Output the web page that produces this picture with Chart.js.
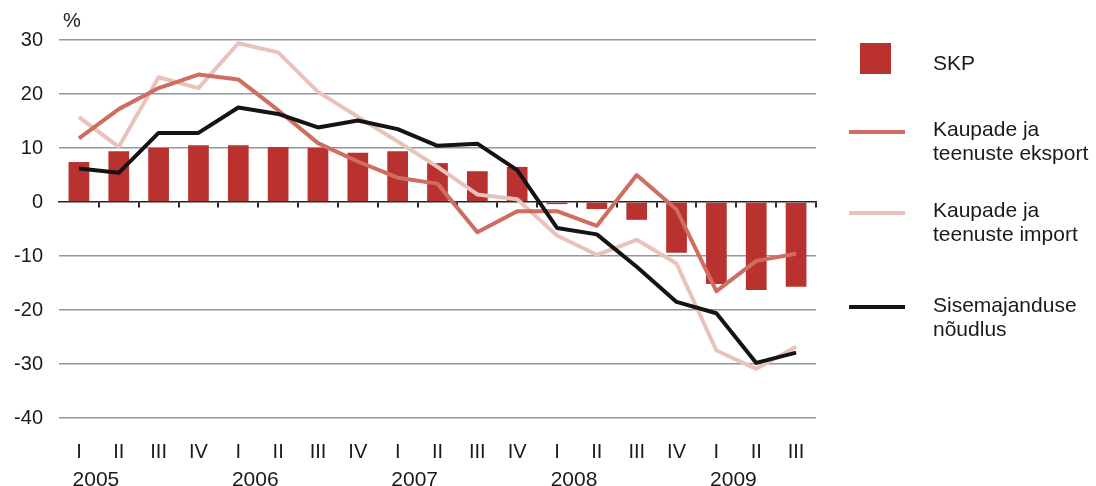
<!DOCTYPE html>
<html>
<head>
<meta charset="utf-8">
<script src="https://cdn.jsdelivr.net/npm/chart.js"></script>
<style>
    html, body { margin: 0; padding: 0; background: #fff; }
    body { font-family: "Liberation Sans", Arial, Helvetica, sans-serif; color: #1a1a1a; }
    #wrap { position: relative; width: 1096px; height: 486px; }
    #chart { position: absolute; left: 0; top: 0; }
    .unit { position: absolute; left: 63px; top: 9px; font-size: 20px; }
    .legend-item { position: absolute; left: 933px; font-size: 21px; line-height: 24px; }
    .swatch { position: absolute; }
</style>
</head>
<body>
<div id="wrap">
    <canvas id="chart" width="1096" height="486"></canvas>
    <div class="unit">%</div>

    <div class="swatch" style="left:860px; top:43px; width:31px; height:31px; background:#b93230;"></div>
    <div class="legend-item" style="top:51px;">SKP</div>

    <div class="swatch" style="left:849px; top:130px; width:56px; height:4px; background:#cf6d60;"></div>
    <div class="legend-item" style="top:117px;">Kaupade ja<br>teenuste eksport</div>

    <div class="swatch" style="left:849px; top:211px; width:56px; height:4px; background:#e9c2ba;"></div>
    <div class="legend-item" style="top:198px;">Kaupade ja<br>teenuste import</div>

    <div class="swatch" style="left:849px; top:305px; width:56px; height:4px; background:#141414;"></div>
    <div class="legend-item" style="top:293px;">Sisemajanduse<br>nõudlus</div>
</div>

<script>
// kvartalid ja aastad
const quarters = ['I', 'II', 'III', 'IV', 'I', 'II', 'III', 'IV', 'I', 'II', 'III', 'IV',
    'I', 'II', 'III', 'IV', 'I', 'II', 'III'];
const years = ['2005', '', '', '', '2006', '', '', '', '2007', '', '', '',
    '2008', '', '', '', '2009', '', ''];

// muutus võrreldes eelmise aasta sama perioodiga, %
const gdp = [7.4, 9.4, 10.0, 10.5, 10.5, 10.2, 10.0, 9.1, 9.4, 7.2, 5.7, 6.5,
    -0.4, -1.3, -3.3, -9.4, -15.2, -16.3, -15.7];
const exports = [11.8, 17.2, 21.1, 23.6, 22.7, 17.0, 10.9, 7.5, 4.5, 3.4, -5.6, -1.7,
    -1.7, -4.4, 5.0, -1.4, -16.5, -10.9, -9.6];
const imports = [15.7, 10.2, 23.1, 21.1, 29.4, 27.7, 20.4, 15.8, 11.2, 6.5, 1.4, 0.5,
    -6.2, -9.8, -7.0, -11.4, -27.5, -30.9, -26.8];
const demand = [6.2, 5.4, 12.8, 12.8, 17.5, 16.3, 13.8, 15.1, 13.5, 10.4, 10.8, 5.9,
    -4.8, -6.0, -12.0, -18.5, -20.6, -29.8, -27.9];

const yTicks = [30, 20, 10, 0, -10, -20, -30, -40];

const FONT = '"Liberation Sans", Arial, Helvetica, sans-serif';
const TEXT = '#1a1a1a';
const lineStyle = { fill: false, tension: 0, pointRadius: 0, borderWidth: 4, borderJoinStyle: 'round' };

new Chart(document.getElementById('chart'), {
    type: 'bar',
    data: {
        labels: quarters,
        datasets: [
            {
                label: 'SKP',
                data: gdp,
                backgroundColor: '#b93230',
                categoryPercentage: 1,
                barPercentage: 0.52,
                order: 4
            },
            { type: 'line', label: 'Kaupade ja teenuste import', data: imports, borderColor: '#e9c2ba', order: 3, ...lineStyle },
            { type: 'line', label: 'Kaupade ja teenuste eksport', data: exports, borderColor: '#cf6d60', order: 2, ...lineStyle },
            { type: 'line', label: 'Sisemajanduse nõudlus', data: demand, borderColor: '#141414', order: 1, ...lineStyle }
        ]
    },
    options: {
        responsive: false,
        animation: false,
        layout: { padding: { left: 0, top: 40, right: 280, bottom: 0 } },
        plugins: {
            legend: { display: false },
            tooltip: { enabled: false }
        },
        scales: {
            y: {
                min: -40,
                max: 30,
                afterBuildTicks: scale => { scale.ticks = yTicks.map(v => ({ value: v })); },
                afterFit: scale => { scale.width = 59; },
                border: { display: false },
                grid: {
                    drawTicks: false,
                    lineWidth: 1.5,
                    color: ctx => ctx.tick && ctx.tick.value === 0 ? 'transparent' : '#8d98a3'
                },
                ticks: { padding: 16, color: TEXT, font: { family: FONT, size: 20 } }
            },
            x: {
                position: 'bottom',
                offset: true,
                afterFit: scale => { scale.height = 42; },
                border: { display: false },
                grid: { display: false },
                ticks: {
                    autoSkip: false, maxRotation: 0, padding: 14,
                    color: TEXT, font: { family: FONT, size: 20 }
                }
            },
            xYear: {
                type: 'category',
                labels: years,
                position: 'bottom',
                offset: true,
                afterFit: scale => { scale.height = 26; },
                border: { display: false },
                grid: { display: false },
                ticks: {
                    autoSkip: false, maxRotation: 0, padding: 0, labelOffset: 17,
                    color: TEXT, font: { family: FONT, size: 21 }
                }
            },
            xZero: {
                type: 'category',
                labels: quarters,
                position: { y: 0 },
                offset: true,
                border: { display: true, color: '#262626', width: 1.5 },
                grid: {
                    offset: true,
                    drawOnChartArea: false,
                    drawTicks: true,
                    tickLength: 5,
                    lineWidth: 2,
                    color: ctx => (ctx.index === 0 || ctx.index >= quarters.length) ? 'transparent' : '#262626'
                },
                ticks: { display: false }
            }
        }
    }
});
</script>
</body>
</html>
